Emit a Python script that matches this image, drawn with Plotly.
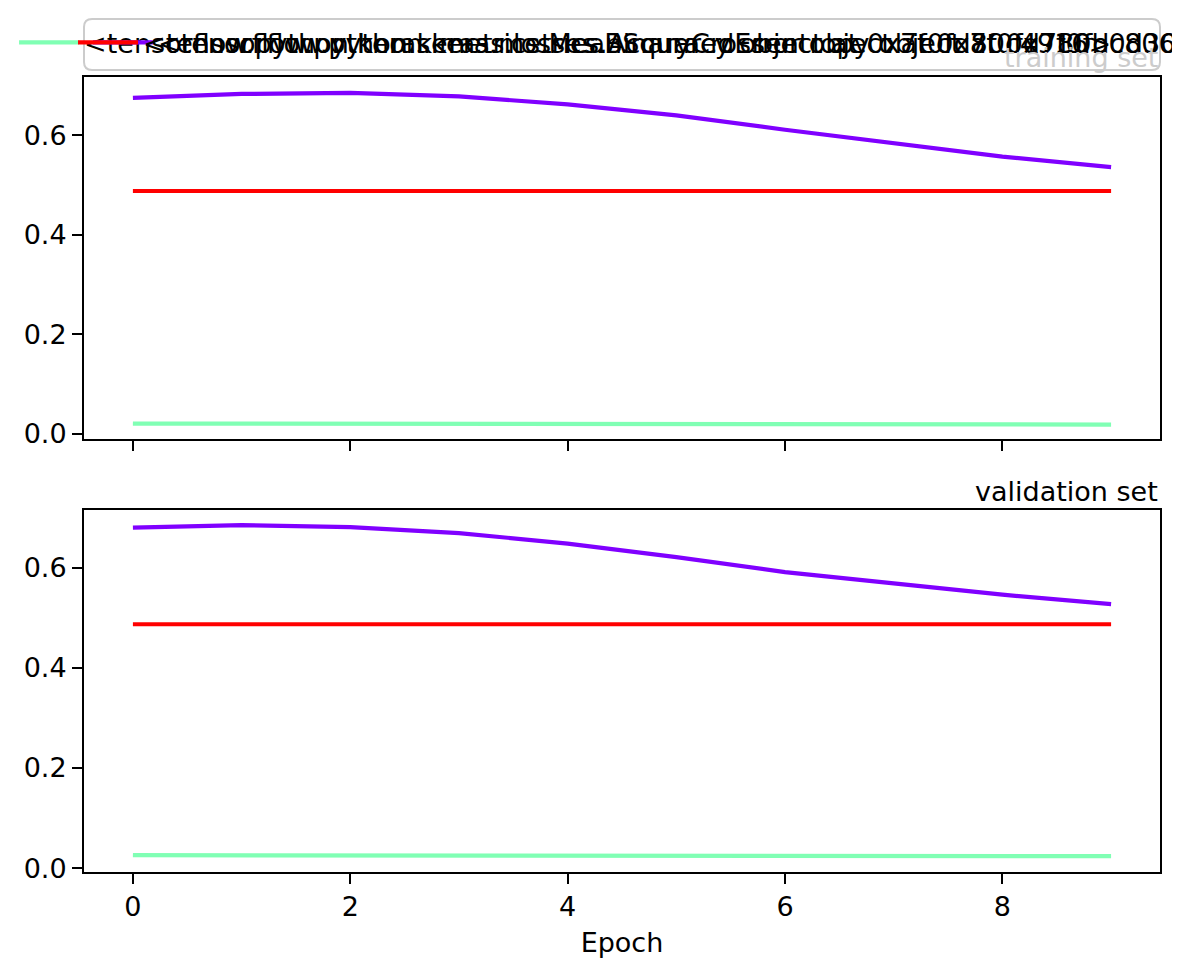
import plotly.graph_objects as go
from plotly.subplots import make_subplots

epochs = [0, 1, 2, 3, 4, 5, 6, 7, 8, 9]

# training set
train_mse = [0.021, 0.021, 0.021, 0.021, 0.020, 0.020, 0.020, 0.019, 0.019, 0.019]
train_acc = [0.488, 0.488, 0.488, 0.488, 0.488, 0.488, 0.488, 0.488, 0.488, 0.488]
train_loss = [0.675, 0.683, 0.685, 0.678, 0.662, 0.640, 0.611, 0.583, 0.557, 0.536]

# validation set
val_mse = [0.026, 0.026, 0.026, 0.025, 0.025, 0.025, 0.025, 0.024, 0.024, 0.024]
val_acc = [0.487, 0.487, 0.487, 0.487, 0.487, 0.487, 0.487, 0.487, 0.487, 0.487]
val_loss = [0.680, 0.685, 0.681, 0.669, 0.648, 0.621, 0.591, 0.568, 0.546, 0.527]

label_mse = "<tensorflow.python.keras.metrics.MeanSquaredError object at 0x7f0fd780b0d30>"
label_loss = "<tensorflow.python.keras.losses.BinaryCrossentropy object at 0x7f0fdc8060c8>"
label_acc = "<tensorflow.python.keras.metrics.Accuracy object at 0x7f0fd80c4916>"

GREEN, PURPLE, RED = "#80ffb4", "#8000ff", "#ff0000"
FONT = "DejaVu Sans"
big = dict(family=FONT, size=27, color="black")

fig = make_subplots(rows=2, cols=1, shared_xaxes=True, vertical_spacing=0.0881)

series = [
    (train_mse, val_mse, GREEN, label_mse, "legend"),
    (train_loss, val_loss, PURPLE, label_loss, "legend2"),
    (train_acc, val_acc, RED, label_acc, "legend3"),
]
for train, val, color, label, leg in series:
    fig.add_trace(go.Scatter(x=epochs, y=train, mode="lines", name=label,
                             line=dict(color=color, width=4.2), legend=leg),
                  row=1, col=1)
    fig.add_trace(go.Scatter(x=epochs, y=val, mode="lines", name=label,
                             line=dict(color=color, width=4.2), showlegend=False),
                  row=2, col=1)

axis_style = dict(showline=True, linecolor="black", linewidth=2, mirror=True,
                  ticks="outside", ticklen=10, tickwidth=2, tickcolor="black",
                  showgrid=False, zeroline=False)
fig.update_xaxes(axis_style, range=[-0.45, 9.45], tickvals=[0, 2, 4, 6, 8])
fig.update_yaxes(axis_style, tickvals=[0.0, 0.2, 0.4, 0.6], tickformat=".1f")
fig.update_xaxes(tickfont=big)
fig.update_yaxes(tickfont=big)
fig.update_yaxes(range=[-0.011, 0.717], row=1, col=1)
fig.update_yaxes(range=[-0.0076, 0.716], row=2, col=1)
fig.update_xaxes(title=dict(text="Epoch", font=big, standoff=12), row=2, col=1)

leg_style = dict(orientation="h", bgcolor="rgba(0,0,0,0)", borderwidth=0,
                 font=big, yanchor="middle", y=1.043, xanchor="left", itemwidth=60)

# rounded legend frame
x0, x1, y0, y1 = 0.0, 1.0, 1.0088, 1.073
rx, ry = 0.0075, 0.0101
frame = (f"M {x0 + rx},{y0} L {x1 - rx},{y0} Q {x1},{y0} {x1},{y0 + ry} "
         f"L {x1},{y1 - ry} Q {x1},{y1} {x1 - rx},{y1} L {x0 + rx},{y1} "
         f"Q {x0},{y1} {x0},{y1 - ry} L {x0},{y0 + ry} Q {x0},{y0} {x0 + rx},{y0} Z")

fig.update_layout(
    width=1172, height=971,
    margin=dict(l=76, r=20, t=69, b=107, autoexpand=False),
    paper_bgcolor="white", plot_bgcolor="white",
    font=big,
    legend=dict(leg_style, x=-0.065),
    legend2=dict(leg_style, x=0.0037),
    legend3=dict(leg_style, x=-0.0102),
    shapes=[dict(type="path", path=frame, xref="paper", yref="paper",
                 fillcolor="rgba(255,255,255,0.8)", line=dict(color="#cccccc", width=2),
                 layer="above")],
    annotations=[
        dict(text="training set", x=1, y=1.002, xref="paper", yref="paper",
             xanchor="right", yanchor="bottom", showarrow=False,
             font=dict(family=FONT, size=27, color="#cccccc")),
        dict(text="validation set", x=1, y=0.4566, xref="paper", yref="paper",
             xanchor="right", yanchor="bottom", showarrow=False, font=big),
    ],
)

fig.write_html("out.html")
